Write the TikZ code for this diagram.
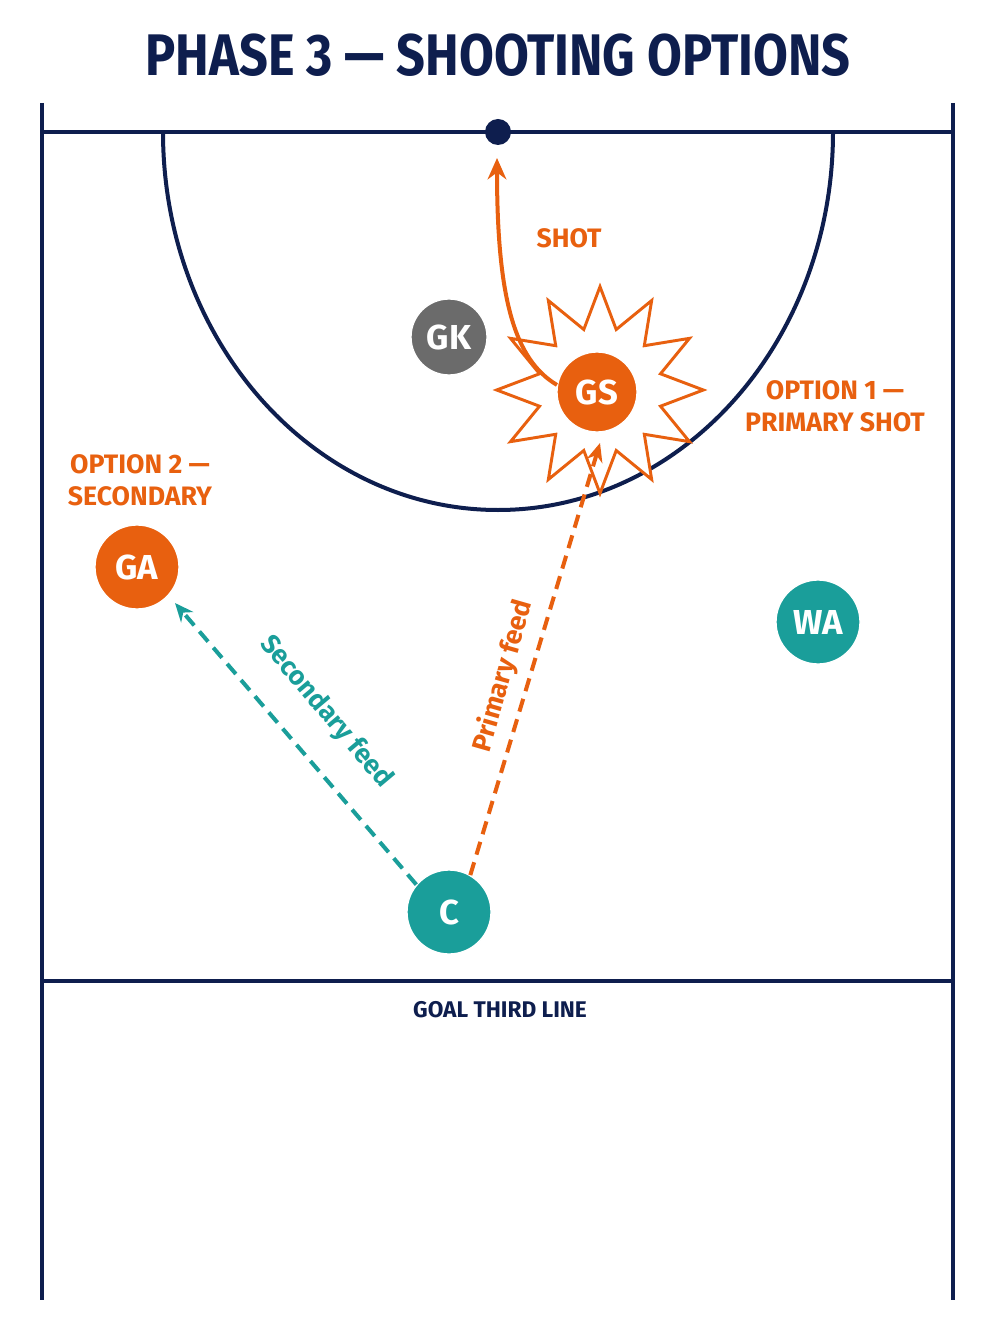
\documentclass[tikz,border=0pt]{standalone}
\usepackage{fontspec}
\setmainfont{Fira Sans}
\usetikzlibrary{shapes.geometric,arrows.meta}
\definecolor{navy}{HTML}{0E1E4E}
\definecolor{org}{HTML}{E8600F}
\definecolor{teal}{HTML}{1A9E9A}
\definecolor{gry}{HTML}{6B6B6B}
\begin{document}
\begin{tikzpicture}[x=0.75pt,y=-0.75pt,
  court/.style={navy,line width=3pt},
  player/.style={circle,draw=white,line width=1pt,text=white,font=\fontsize{26}{28}\bfseries\selectfont,inner sep=0pt},
  lbl/.style={font=\fontsize{20}{24}\bfseries\selectfont,align=center},
  feed/.style={line width=3pt,dash pattern=on 10pt off 6pt,-{Stealth[length=14pt,width=12pt]}}]
\useasboundingbox[fill=white] (0,0) rectangle (1000,1333);
\node[font=\fontsize{44}{48}\bfseries\selectfont,text=navy] (title) at (498,55) {\scalebox{0.86}[1]{PHASE 3 — SHOOTING OPTIONS}};
\draw[court] (42,103) -- (42,1300);
\draw[court] (953,103) -- (953,1300);
\draw[court] (42,132) -- (953,132);
\draw[court] (42,981) -- (953,981);
\draw[court] (163,132) arc[start angle=180,end angle=360,x radius=335,y radius=-378];
\node[circle,fill=navy,minimum size=26pt*0.75,inner sep=0pt] (post) at (498,132) {};
\node[star,star points=12,star point ratio=1.65,draw=org,fill=white,line width=2.2pt,minimum size=155pt] (burst) at (600,390) {};
\node[player,fill=gry,minimum size=57pt] (GK) at (449,337) {GK};
\node[player,fill=org,minimum size=60pt] (GS) at (597,392) {GS};
\node[player,fill=org,minimum size=63pt] (GA) at (137,567) {GA};
\node[player,fill=teal,minimum size=63pt] (WA) at (818,622) {WA};
\node[player,fill=teal,minimum size=63pt] (C) at (449,912) {C};
\coordinate (goal) at (497,158);
\draw[org,line width=3pt,-{Stealth[length=16pt,width=14pt]}] (GS.170) .. controls (515,360) and (497,300) .. (goal);
\node[lbl,text=org] (shot) at (569,238) {SHOT};
\node[lbl,text=org] (o1) at (835,406) {OPTION 1 —\\PRIMARY SHOT};
\node[lbl,text=org] (o2) at (140,480) {OPTION 2 —\\SECONDARY};
\coordinate (pf) at (600,443);
\draw[feed,org] (C.60) -- (pf);
\coordinate (sf) at (175,603);
\draw[feed,teal] (C.140) -- (sf);
\node[lbl,text=org,rotate=74] (pl) at (503,676) {Primary feed};
\node[lbl,text=teal,rotate=-50] (sl) at (326,712) {Secondary feed};
\node[font=\fontsize{17}{20}\bfseries\selectfont,text=navy] (gtl) at (500,1010) {GOAL THIRD LINE};
\end{tikzpicture}
\end{document}
